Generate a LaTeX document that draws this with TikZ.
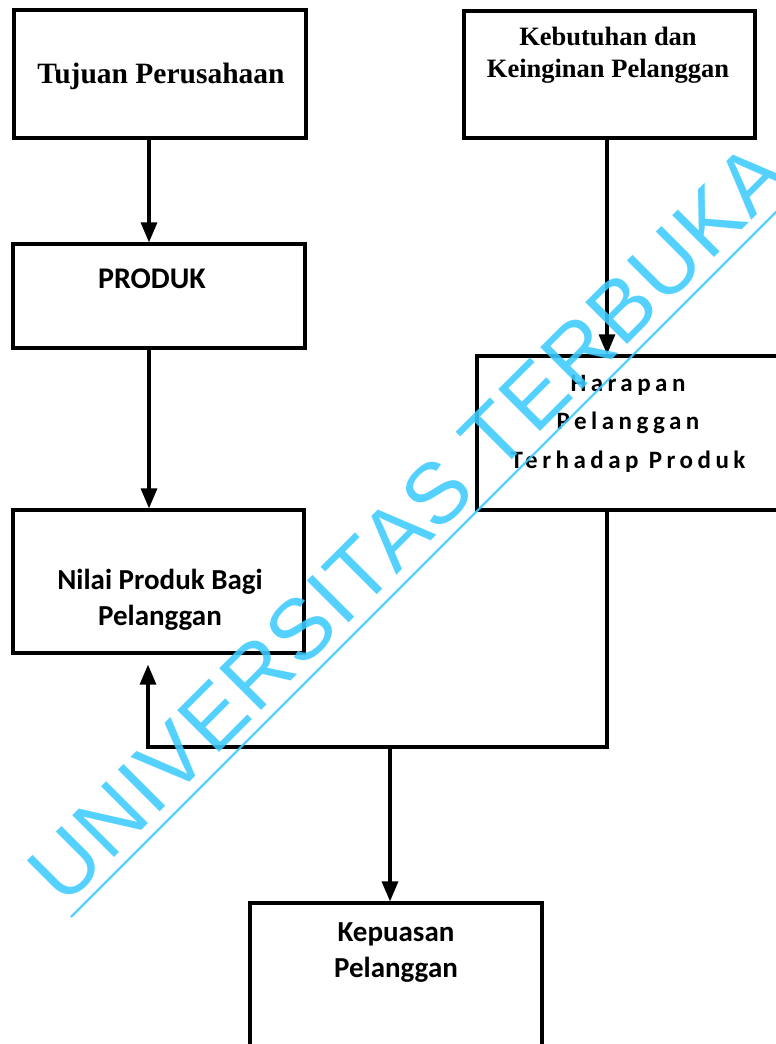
\documentclass[tikz,border=0pt]{standalone}
\usepackage{fontspec}
\setmainfont{Liberation Serif}
\newfontfamily\calfont{Carlito}
\newfontfamily\calspfont{Carlito}[LetterSpace=18]
\newfontfamily\wmfont{Liberation Sans}[LetterSpace=2.2]
\usetikzlibrary{arrows.meta}
\definecolor{wmcyan}{RGB}{61,203,255}
\begin{document}
\begin{tikzpicture}[x=1pt,y=-1pt,
  box/.style={draw, line width=3.2pt, rectangle, inner sep=0pt},
  conn/.style={line width=3.2pt},
  arr/.style={conn, -{Triangle[width=16pt,length=20pt]}},
  serift/.style={font=\bfseries\fontsize{29.5}{36}\selectfont, inner sep=0pt, align=center},
  serift2/.style={font=\bfseries\fontsize{26.5}{32}\selectfont, inner sep=0pt, align=center},
  calt/.style={font=\calfont\bfseries\fontsize{29}{36}\selectfont, inner sep=0pt, align=center},
  calsp/.style={font=\calspfont\bfseries\fontsize{25}{38.5}\selectfont, inner sep=0pt, align=center},
  wm/.style={font=\wmfont\fontsize{86}{90}\selectfont, text=wmcyan, inner sep=0pt, opacity=0.88}]
\useasboundingbox (0,0) rectangle (776,1044);
% boxes
\node[box, minimum width=292pt, minimum height=128pt] (tuj) at (160,74) {};
\node[box, minimum width=292pt, minimum height=104pt] (prod) at (159,296) {};
\node[box, minimum width=291pt, minimum height=143pt] (nil) at (158.5,581.5) {};
\node[box, minimum width=291pt, minimum height=127pt] (keb) at (609.5,74.5) {};
\node[box, minimum width=313pt, minimum height=154pt] (har) at (633.5,433) {};
\node[box, minimum width=292pt, minimum height=157pt] (kep) at (396,981.5) {};
% texts (anchor base = baseline of last line)
\node[serift, anchor=base] (ttuj) at (161,83) {Tujuan Perusahaan};
\node[serift2, anchor=base] (tkeb) at (608,77) {Kebutuhan dan\\Keinginan Pelanggan};
\node[calt, font=\calfont\bfseries\fontsize{30}{36}\selectfont, anchor=base] (tprod) at (152,288) {PRODUK};
\node[calt, anchor=base] (tnil) at (160,625) {Nilai Produk Bagi\\Pelanggan};
\node[calsp, anchor=base] (thar) at (628,468) {Harapan\\Pelanggan\\Terhadap Produk};
\node[calt, anchor=base] (tkep) at (396,977) {Kepuasan\\Pelanggan};
% columns
\coordinate (cL) at (149,0);
\coordinate (cR) at (607,0);
\coordinate (cB) at (148,0);
\coordinate (j) at (390,747);
% connectors
\draw[arr] (tuj.south -| cL) -- (prod.north -| cL);
\draw[arr] (prod.south -| cL) -- (nil.north -| cL);
\draw[arr] (keb.south -| cR) -- (har.north -| cR);
\draw[arr, shorten >=10pt] (har.south -| cR) -- (cR |- j) -- (cB |- j) -- (nil.south -| cB);
\draw[arr] (j) -- (kep.north -| j);
% watermark
\node[wm, rotate=45, anchor=base west] (wmtext) at (64,908) {UNIVERSITAS TERBUKA};
\coordinate (ul1) at (71,917);
\coordinate (ul2) at (800,188);
\draw[wmcyan, line width=2.4pt, opacity=0.88] (ul1) -- (ul2);
\end{tikzpicture}
\end{document}
